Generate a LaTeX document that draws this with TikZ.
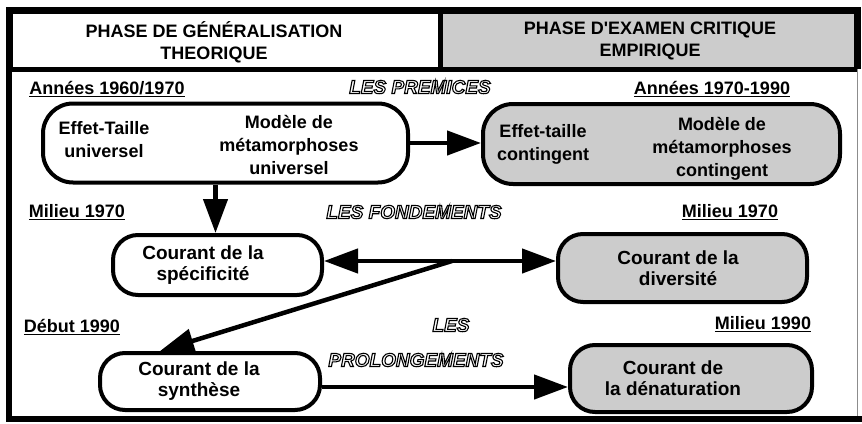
\documentclass[tikz,border=0pt]{standalone}
\usepackage{fontspec}
\setmainfont{Liberation Sans}[Ligatures=TeXOff]
\newfontfamily\outlinefont{Liberation Sans}[Ligatures=TeXOff]
\usetikzlibrary{positioning,arrows.meta}
\definecolor{dotgray}{gray}{0.8}
\newcommand{\outl}[1]{\textcolor{white}{\special{pdf:literal direct 0 G 1.1 w 2 Tr}#1\special{pdf:literal direct 0 Tr}}}

\begin{document}
\begin{tikzpicture}[x=1pt,y=-1pt,inner sep=0pt,
  pill/.style={draw,line width=4pt,rounded corners=25pt},
  txt/.style={align=center,font=\fontsize{18}{23}\selectfont\bfseries},
  ctxt/.style={align=center,font=\fontsize{19}{21}\selectfont\bfseries},
  head/.style={align=center,font=\fontsize{18}{22}\selectfont\bfseries},
  date/.style={font=\fontsize{18}{20}\selectfont\bfseries},
  stage/.style={font=\outlinefont\fontsize{19}{22}\selectfont\bfseries\itshape},
  arr/.style={line width=4.5pt,-{Triangle[length=34pt,width=24pt]}}]
\useasboundingbox (0,0) rectangle (862,423);

% cadre
\fill[dotgray] (440,10) rectangle (857,69);
\draw[black!45] (857,69) -- (857,419);
\draw[line width=7pt] (9,69) -- (9,10) -- (857,10) -- (857,69);
\draw[line width=5pt] (9,69) -- (857,69);
\draw[line width=5pt] (440,10) -- (440,69);
\draw[line width=6pt] (9,69) -- (9,419) -- (862,419);

\node[head] (hg) at (214,42) {PHASE DE GÉNÉRALISATION\\THEORIQUE};
\node[head] (hd) at (650,41) {PHASE D'EXAMEN CRITIQUE\\EMPIRIQUE};

% dates
\node[date] (d1) at (107,89) {\underline{Années 1960/1970}};
\node[date] (d2) at (712,89) {\underline{Années 1970-1990}};
\node[date] (d3) at (77,212) {\underline{Milieu 1970}};
\node[date] (d4) at (730,212) {\underline{Milieu 1970}};
\node[date] (d5) at (72,327) {\underline{Début 1990}};
\node[date] (d6) at (763,324) {\underline{Milieu 1990}};

\node[stage] (s1) at (420,87) {\outl{LES PREMICES}};
\node[stage] (s2) at (414,212) {\outl{LES FONDEMENTS}};
\node[stage] (s3) at (451,325) {\outl{LES}};
\node[stage] (s4) at (416,360) {\outl{PROLONGEMENTS}};

% boites
\node[pill,rounded corners=30pt,minimum width=365pt,minimum height=79pt] (tl) at (225.5,143) {};
\node[txt] (tlA) at (104,140) {Effet-Taille\\universel};
\node[txt] (tlB) at (289,145) {Modèle de\\métamorphoses\\universel};

\node[pill,fill=dotgray,rounded corners=30pt,minimum width=357pt,minimum height=80pt] (tr) at (661.5,144) {};
\node[txt] (trA) at (543,144) {Effet-taille\\contingent};
\node[txt] (trB) at (722,149) {Modèle de\\métamorphoses\\contingent};

\node[pill,minimum width=209pt,minimum height=60pt] (spec) at (217.5,265) {};
\node[ctxt] (specT) at (203,265) {Courant de la\\spécificité};
\node[pill,fill=dotgray,minimum width=249pt,minimum height=68pt] (div) at (682.5,268) {};
\node[ctxt] (divT) at (678,268) {Courant de la\\diversité};
\node[pill,minimum width=220pt,minimum height=57pt] (synth) at (210,381.5) {};
\node[ctxt] (synthT) at (199,381.5) {Courant de la\\synthèse};
\node[pill,fill=dotgray,minimum width=242pt,minimum height=67pt] (den) at (691,378.5) {};
\node[ctxt] (denT) at (673,378.5) {Courant de\\la dénaturation};

% fleches
\coordinate (j) at (452,261);
\draw[arr] (tl.east) -- (tl.east -| tr.west);
\draw[arr] ([xshift=-10pt]tl.south) -- ([xshift=-10pt]tl.south |- spec.north);
\draw[arr] (j) -- (j -| spec.east);
\draw[arr] (j) -- (j -| div.west);
\draw[arr] (j) -- ([xshift=-50pt]synth.north);
\draw[arr] ([yshift=-5.5pt]synth.east) -- ([yshift=-5.5pt]synth.east -| den.west);
\end{tikzpicture}
\end{document}
